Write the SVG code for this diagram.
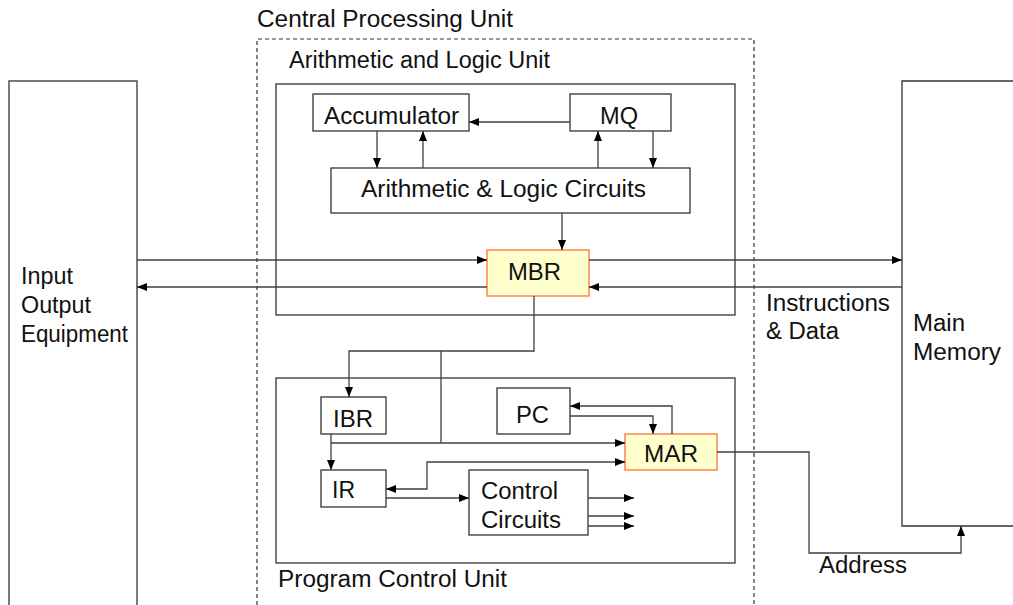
<svg xmlns="http://www.w3.org/2000/svg" width="1013" height="605" viewBox="0 0 1013 605">
<style>
text{font-family:"Liberation Sans",Arial,sans-serif;font-size:23px;fill:#111}
.box{fill:#fff;stroke:#333;stroke-width:1.3}
.reg{fill:#FFFFCC;stroke:#FF7040;stroke-width:1.3}
.dash{fill:none;stroke:#333;stroke-width:1.2;stroke-dasharray:4 3}
.open{fill:none;stroke:#333;stroke-width:1.3}
#connectors path{fill:none;stroke:#404040;stroke-width:1.3}
</style>
<defs>
<marker id="ah" markerWidth="10" markerHeight="8" refX="10" refY="4" orient="auto" markerUnits="userSpaceOnUse">
<path d="M0,0 L10,4 L0,8 Z" fill="#000"/>
</marker>
<marker id="as" markerWidth="10" markerHeight="8" refX="0" refY="4" orient="auto" markerUnits="userSpaceOnUse">
<path d="M10,0 L0,4 L10,8 Z" fill="#000"/>
</marker>
</defs>
<rect width="1013" height="605" fill="#fff"/>

<g id="cpu">
<path class="dash" d="M257,612 V39 H754 V612"/>
<text x="257" y="27" textLength="256" lengthAdjust="spacingAndGlyphs">Central Processing Unit</text>
</g>
<g id="alu">
<rect class="box" x="276" y="84" width="459" height="231"/>
<text x="289" y="68" textLength="261" lengthAdjust="spacingAndGlyphs">Arithmetic and Logic Unit</text>
</g>
<g id="pcu">
<rect class="box" x="276" y="378" width="459" height="185"/>
<text x="278" y="587" textLength="229" lengthAdjust="spacingAndGlyphs">Program Control Unit</text>
</g>
<g id="io">
<rect class="box" x="9" y="81" width="128" height="540"/>
<text x="21" y="284" textLength="52" lengthAdjust="spacingAndGlyphs">Input</text>
<text x="21" y="313" textLength="70" lengthAdjust="spacingAndGlyphs">Output</text>
<text x="21" y="342" textLength="107" lengthAdjust="spacingAndGlyphs">Equipment</text>
</g>
<g id="memory">
<path class="open" d="M1015,81 H902 V526 H1015"/>
<text x="913" y="331" textLength="52" lengthAdjust="spacingAndGlyphs">Main</text>
<text x="913" y="360" textLength="88" lengthAdjust="spacingAndGlyphs">Memory</text>
</g>
<g id="accumulator">
<rect class="box" x="313" y="94" width="156" height="37"/>
<text x="324" y="124" textLength="135" lengthAdjust="spacingAndGlyphs">Accumulator</text>
</g>
<g id="mq">
<rect class="box" x="570" y="94" width="101" height="37"/>
<text x="600" y="124" textLength="38" lengthAdjust="spacingAndGlyphs">MQ</text>
</g>
<g id="alc">
<rect class="box" x="331" y="168" width="359" height="45"/>
<text x="361" y="197" textLength="285" lengthAdjust="spacingAndGlyphs">Arithmetic &amp; Logic Circuits</text>
</g>
<g id="mbr">
<rect class="reg" x="487" y="250" width="102" height="46"/>
<text x="508" y="280" textLength="53" lengthAdjust="spacingAndGlyphs">MBR</text>
</g>
<g id="ibr">
<rect class="box" x="321" y="397" width="65" height="37"/>
<text x="333" y="427" textLength="40" lengthAdjust="spacingAndGlyphs">IBR</text>
</g>
<g id="pc">
<rect class="box" x="497" y="388" width="73" height="46"/>
<text x="516" y="423" textLength="33" lengthAdjust="spacingAndGlyphs">PC</text>
</g>
<g id="mar">
<rect class="reg" x="625" y="434" width="92" height="36"/>
<text x="644" y="462" textLength="54" lengthAdjust="spacingAndGlyphs">MAR</text>
</g>
<g id="ir">
<rect class="box" x="321" y="470" width="65" height="37"/>
<text x="332" y="498" textLength="23" lengthAdjust="spacingAndGlyphs">IR</text>
</g>
<g id="control">
<rect class="box" x="469" y="470" width="119" height="65"/>
<text x="481" y="499" textLength="77" lengthAdjust="spacingAndGlyphs">Control</text>
<text x="481" y="528" textLength="80" lengthAdjust="spacingAndGlyphs">Circuits</text>
</g>

<g id="connectors">
<path d="M570,122 H469" marker-end="url(#ah)"/>
<path d="M377,131 V168" marker-end="url(#ah)"/>
<path d="M423,168 V131" marker-end="url(#ah)"/>
<path d="M598,168 V131" marker-end="url(#ah)"/>
<path d="M653,131 V168" marker-end="url(#ah)"/>
<path d="M562,213 V250" marker-end="url(#ah)"/>
<path d="M137,260 H487" marker-end="url(#ah)"/>
<path d="M487,287 H137" marker-end="url(#ah)"/>
<path d="M589,260 H902" marker-end="url(#ah)"/>
<path d="M902,287 H589" marker-end="url(#ah)"/>
<path d="M534,296 V351 H349 V397" marker-end="url(#ah)"/>
<path d="M441,351 V443"/>
<path d="M331,434 V470" marker-end="url(#ah)"/>
<path d="M331,443 H625" marker-end="url(#ah)"/>
<path d="M570,416 H653 V434" marker-end="url(#ah)"/>
<path d="M672,434 V406 H570" marker-end="url(#ah)"/>
<path d="M625,462 H427 V489 H386" marker-start="url(#as)" marker-end="url(#ah)"/>
<path d="M386,498 H469" marker-end="url(#ah)"/>
<path d="M588,498 H634" marker-end="url(#ah)"/>
<path d="M588,516 H634" marker-end="url(#ah)"/>
<path d="M588,526 H634" marker-end="url(#ah)"/>
<path d="M717,452 H809 V553 H961 V526" marker-end="url(#ah)"/>
<text x="766" y="311" textLength="124" lengthAdjust="spacingAndGlyphs">Instructions</text>
<text x="766" y="339" textLength="73" lengthAdjust="spacingAndGlyphs">&amp; Data</text>
<text x="819" y="573" textLength="88" lengthAdjust="spacingAndGlyphs">Address</text>
</g>
</svg>
